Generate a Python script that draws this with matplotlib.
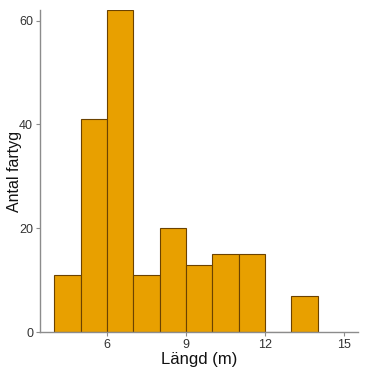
import matplotlib
matplotlib.use('Agg')
import matplotlib.pyplot as plt

plt.rcParams['font.family'] = ['Liberation Sans', 'DejaVu Sans']

bin_left = [4, 5, 6, 7, 8, 9, 10, 11, 12, 13]
counts = [11, 41, 62, 11, 20, 13, 15, 15, 0, 7]
x_ticks = [6, 9, 12, 15]
y_ticks = [0, 20, 40, 60]

fig = plt.figure(figsize=(3.67, 3.67), dpi=100)
ax = fig.add_axes([0.109, 0.095, 0.866, 0.877])

ax.bar(bin_left, counts, width=1, align='edge', color='#E8A000',
       edgecolor='#6b4200', linewidth=0.8)

ax.set_xlim(3.46, 15.53)
ax.set_ylim(0, 62)
ax.set_xticks(x_ticks)
ax.set_yticks(y_ticks)

for side in ['top', 'right']:
    ax.spines[side].set_visible(False)
for side in ['left', 'bottom']:
    ax.spines[side].set_color('#8c8c8c')
    ax.spines[side].set_linewidth(1.0)

ax.tick_params(colors='#8c8c8c', labelcolor='#333333', labelsize=9,
               length=3, width=0.8, pad=2)

ax.set_xlabel('Längd (m)', fontsize=12, color='#111111', labelpad=1)
ax.set_ylabel('Antal fartyg', fontsize=11.5, color='#111111', labelpad=-2)

fig.savefig('out.png', dpi=100)
